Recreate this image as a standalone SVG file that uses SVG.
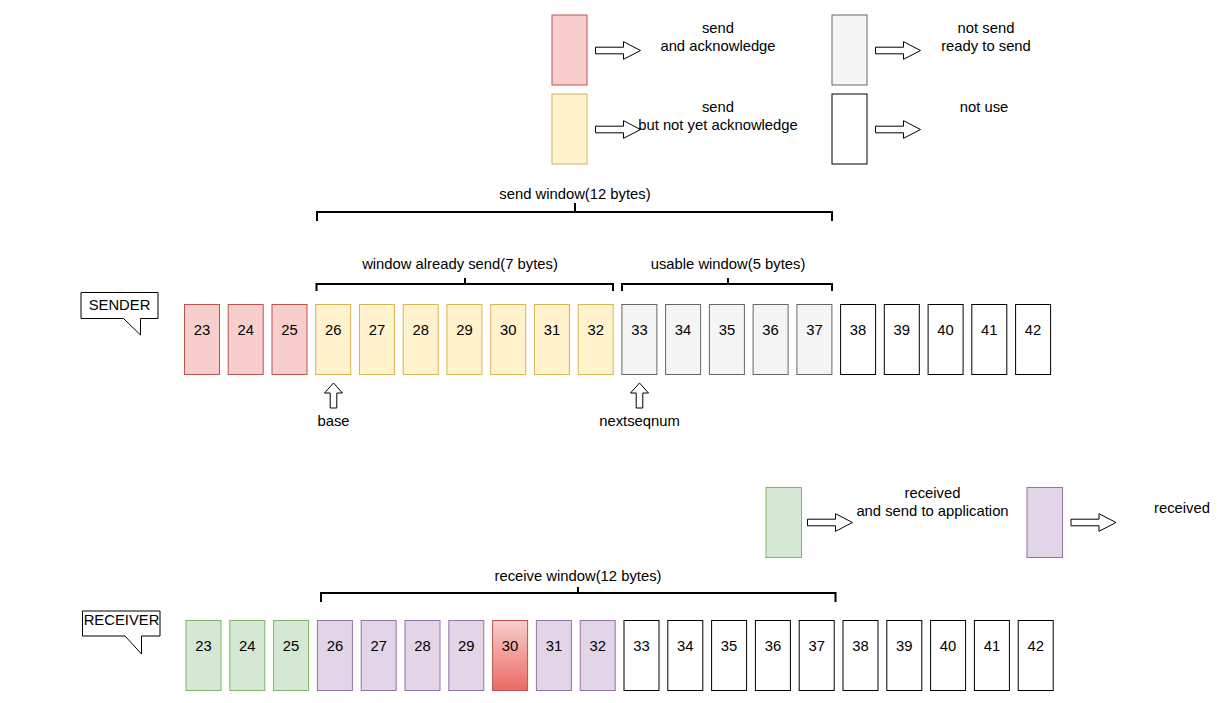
<svg xmlns="http://www.w3.org/2000/svg" width="1221" height="703" viewBox="0 0 1221 703">
<defs>
<style>
text{font-family:"Liberation Sans",Arial,sans-serif;font-size:14.8px;fill:#000;text-anchor:middle}
rect{stroke-width:1}
.r{fill:#f8cecc;stroke:#b85450}
.y{fill:#fff2cc;stroke:#d6b656}
.g{fill:#f5f5f5;stroke:#666666}
.w{fill:#ffffff;stroke:#000000}
.gr{fill:#d5e8d4;stroke:#82b366}
.p{fill:#e1d5e7;stroke:#9673a6}
.rg{fill:url(#redgrad);stroke:#b85450}
.ba{fill:#ffffff;stroke:#000;stroke-width:1}
.br{fill:none;stroke:#000;stroke-width:2}
.co{fill:#ffffff;stroke:#000;stroke-width:1}
</style>
<linearGradient id="redgrad" x1="0" y1="0" x2="0" y2="1">
<stop offset="0" stop-color="#f8cecc"/>
<stop offset="1" stop-color="#ea6b66"/>
</linearGradient>
<path id="rarrow" d="M0,-3.3 H28 V-8.8 L45,0 L28,8.8 V3.3 H0 Z"/>
<path id="uarrow" d="M0,0 L9,10 H3.3 V25 H-3.3 V10 H-9 Z"/>
</defs>

<!-- legend -->
<g id="legend-acked"><rect class="r" x="552" y="15" width="35" height="70"/></g>
<g id="legend-sent"><rect class="y" x="552" y="94" width="35" height="70"/></g>
<g id="legend-ready"><rect class="g" x="832" y="15" width="35" height="70"/></g>
<g id="legend-unused"><rect class="w" x="832" y="94" width="35" height="70"/></g>
<g id="legend-delivered"><rect class="gr" x="766" y="487.5" width="35.5" height="70"/></g>
<g id="legend-received"><rect class="p" x="1027" y="487.5" width="35.5" height="70"/></g>

<g id="legend-arrows">
<use href="#rarrow" class="ba" x="595.5" y="50.5"/>
<use href="#rarrow" class="ba" x="595.5" y="129.5"/>
<use href="#rarrow" class="ba" x="875.5" y="50.5"/>
<use href="#rarrow" class="ba" x="875.5" y="129.5"/>
<use href="#rarrow" class="ba" x="807.5" y="522.5"/>
<use href="#rarrow" class="ba" x="1071" y="522.5"/>
</g>

<g id="legend-labels">
<text x="718" y="33">send</text>
<text x="718" y="51">and acknowledge</text>
<text x="718" y="112">send</text>
<text x="718" y="129.5">but not yet acknowledge</text>
<text x="986" y="33">not send</text>
<text x="986" y="51">ready to send</text>
<text x="984" y="112">not use</text>
<text x="932.5" y="498">received</text>
<text x="932.5" y="515.5">and send to application</text>
<text x="1182" y="512.5">received</text>
</g>

<!-- brackets -->
<g id="brackets">
<path class="br" d="M317,221 V212 H832 V221 M575,212 V203"/>
<text x="575" y="199">send window(12 bytes)</text>
<path class="br" d="M316.5,291 V284 H613 V291 M465,284 V278"/>
<text x="460" y="269">window already send(7 bytes)</text>
<path class="br" d="M622,291 V284 H832 V291 M728,284 V278"/>
<text x="728" y="269">usable window(5 bytes)</text>
<path class="br" d="M321,602 V593 H835.5 V602 M578,593 V587"/>
<text x="578" y="581">receive window(12 bytes)</text>
</g>

<!-- callouts -->
<g id="sender-label">
<path class="co" d="M81,292.5 H158 V318.5 H140.5 V335 L123.5,318.5 H81 Z"/>
<text x="119.5" y="310">SENDER</text>
</g>
<g id="receiver-label">
<path class="co" d="M82.5,611 H160 V636 H141.5 V654 L125,636 H82.5 Z"/>
<text x="121.5" y="625">RECEIVER</text>
</g>

<!-- pointers -->
<g id="base-pointer">
<use href="#uarrow" class="ba" x="333.5" y="383"/>
<text x="333.5" y="426">base</text>
</g>
<g id="nextseqnum-pointer">
<use href="#uarrow" class="ba" x="639.5" y="383"/>
<text x="639.5" y="426">nextseqnum</text>
</g>

<!-- sender cells -->
<g id="s23"><rect class="r" x="184.5" y="304.5" width="35" height="70"/><text x="202" y="335">23</text></g>
<g id="s24"><rect class="r" x="228.2" y="304.5" width="35" height="70"/><text x="245.7" y="335">24</text></g>
<g id="s25"><rect class="r" x="272" y="304.5" width="35" height="70"/><text x="289.5" y="335">25</text></g>
<g id="s26"><rect class="y" x="315.7" y="304.5" width="35" height="70"/><text x="333.2" y="335">26</text></g>
<g id="s27"><rect class="y" x="359.5" y="304.5" width="35" height="70"/><text x="377" y="335">27</text></g>
<g id="s28"><rect class="y" x="403.2" y="304.5" width="35" height="70"/><text x="420.7" y="335">28</text></g>
<g id="s29"><rect class="y" x="446.9" y="304.5" width="35" height="70"/><text x="464.4" y="335">29</text></g>
<g id="s30"><rect class="y" x="490.7" y="304.5" width="35" height="70"/><text x="508.2" y="335">30</text></g>
<g id="s31"><rect class="y" x="534.4" y="304.5" width="35" height="70"/><text x="551.9" y="335">31</text></g>
<g id="s32"><rect class="y" x="578.2" y="304.5" width="35" height="70"/><text x="595.7" y="335">32</text></g>
<g id="s33"><rect class="g" x="621.9" y="304.5" width="35" height="70"/><text x="639.4" y="335">33</text></g>
<g id="s34"><rect class="g" x="665.6" y="304.5" width="35" height="70"/><text x="683.1" y="335">34</text></g>
<g id="s35"><rect class="g" x="709.4" y="304.5" width="35" height="70"/><text x="726.9" y="335">35</text></g>
<g id="s36"><rect class="g" x="753.1" y="304.5" width="35" height="70"/><text x="770.6" y="335">36</text></g>
<g id="s37"><rect class="g" x="796.9" y="304.5" width="35" height="70"/><text x="814.4" y="335">37</text></g>
<g id="s38"><rect class="w" x="840.6" y="304.5" width="35" height="70"/><text x="858.1" y="335">38</text></g>
<g id="s39"><rect class="w" x="884.3" y="304.5" width="35" height="70"/><text x="901.8" y="335">39</text></g>
<g id="s40"><rect class="w" x="928.1" y="304.5" width="35" height="70"/><text x="945.6" y="335">40</text></g>
<g id="s41"><rect class="w" x="971.8" y="304.5" width="35" height="70"/><text x="989.3" y="335">41</text></g>
<g id="s42"><rect class="w" x="1015.6" y="304.5" width="35" height="70"/><text x="1033.1" y="335">42</text></g>

<!-- receiver cells -->
<g id="r23"><rect class="gr" x="186" y="620.5" width="35" height="70"/><text x="203.5" y="651">23</text></g>
<g id="r24"><rect class="gr" x="229.8" y="620.5" width="35" height="70"/><text x="247.3" y="651">24</text></g>
<g id="r25"><rect class="gr" x="273.6" y="620.5" width="35" height="70"/><text x="291.1" y="651">25</text></g>
<g id="r26"><rect class="p" x="317.4" y="620.5" width="35" height="70"/><text x="334.9" y="651">26</text></g>
<g id="r27"><rect class="p" x="361.2" y="620.5" width="35" height="70"/><text x="378.7" y="651">27</text></g>
<g id="r28"><rect class="p" x="405" y="620.5" width="35" height="70"/><text x="422.5" y="651">28</text></g>
<g id="r29"><rect class="p" x="448.8" y="620.5" width="35" height="70"/><text x="466.3" y="651">29</text></g>
<g id="r30"><rect class="rg" x="492.6" y="620.5" width="35" height="70"/><text x="510.1" y="651">30</text></g>
<g id="r31"><rect class="p" x="536.4" y="620.5" width="35" height="70"/><text x="553.9" y="651">31</text></g>
<g id="r32"><rect class="p" x="580.2" y="620.5" width="35" height="70"/><text x="597.7" y="651">32</text></g>
<g id="r33"><rect class="w" x="624" y="620.5" width="35" height="70"/><text x="641.5" y="651">33</text></g>
<g id="r34"><rect class="w" x="667.8" y="620.5" width="35" height="70"/><text x="685.3" y="651">34</text></g>
<g id="r35"><rect class="w" x="711.6" y="620.5" width="35" height="70"/><text x="729.1" y="651">35</text></g>
<g id="r36"><rect class="w" x="755.4" y="620.5" width="35" height="70"/><text x="772.9" y="651">36</text></g>
<g id="r37"><rect class="w" x="799.2" y="620.5" width="35" height="70"/><text x="816.7" y="651">37</text></g>
<g id="r38"><rect class="w" x="843" y="620.5" width="35" height="70"/><text x="860.5" y="651">38</text></g>
<g id="r39"><rect class="w" x="886.8" y="620.5" width="35" height="70"/><text x="904.3" y="651">39</text></g>
<g id="r40"><rect class="w" x="930.6" y="620.5" width="35" height="70"/><text x="948.1" y="651">40</text></g>
<g id="r41"><rect class="w" x="974.4" y="620.5" width="35" height="70"/><text x="991.9" y="651">41</text></g>
<g id="r42"><rect class="w" x="1018.2" y="620.5" width="35" height="70"/><text x="1035.7" y="651">42</text></g>
</svg>
